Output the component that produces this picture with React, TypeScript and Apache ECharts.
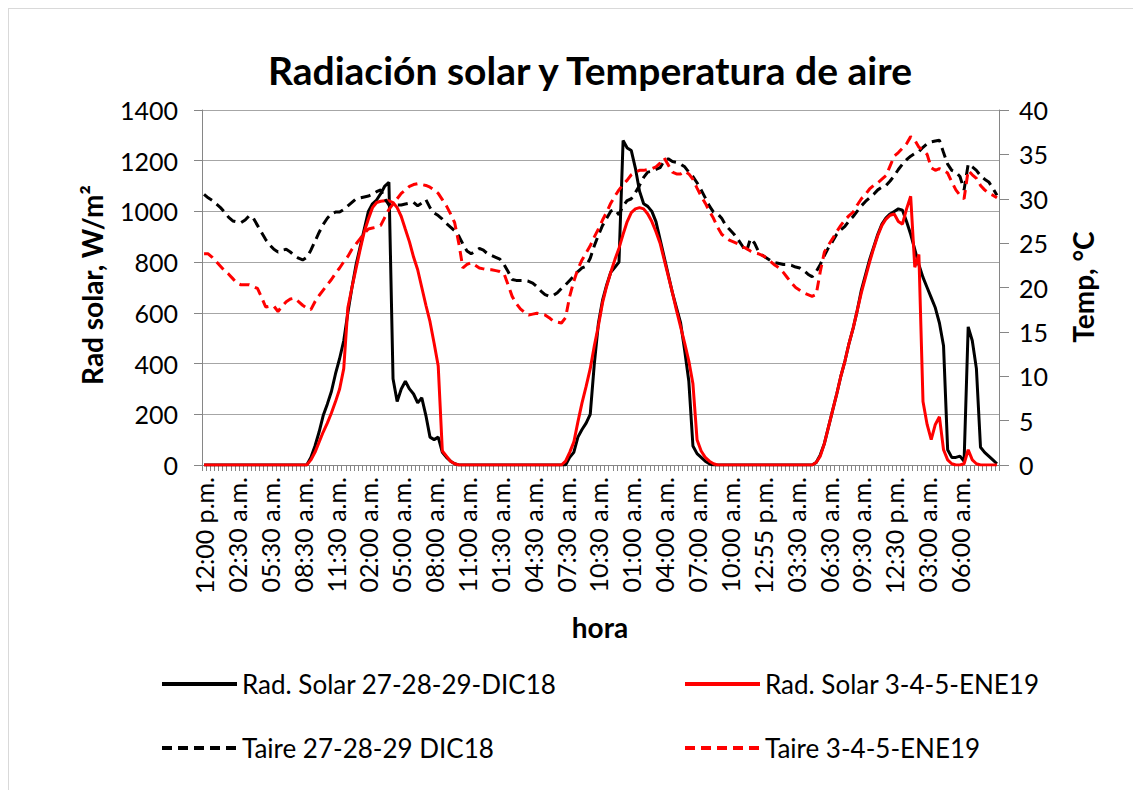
import { useEffect, useRef } from "react";
import * as echarts from "echarts";

const FONT = "Lato, 'Liberation Sans', sans-serif";

const xTickLabels = [
  "12:00 p.m.", "02:30 a.m.", "05:30 a.m.", "08:30 a.m.", "11:30 a.m.", "02:00 a.m.",
  "05:00 a.m.", "08:00 a.m.", "11:00 a.m.", "01:30 a.m.", "04:30 a.m.", "07:30 a.m.",
  "10:30 a.m.", "01:00 a.m.", "04:00 a.m.", "07:00 a.m.", "10:00 a.m.", "12:55 p.m.",
  "03:30 a.m.", "06:30 a.m.", "09:30 a.m.", "12:30 p.m.", "03:00 a.m.", "06:00 a.m.",
];
const LABEL_EVERY = 8;

const seriesNames = [
  "Rad. Solar 27-28-29-DIC18",
  "Rad. Solar 3-4-5-ENE19",
  "Taire 27-28-29 DIC18",
  "Taire 3-4-5-ENE19",
];

// Rad. Solar 27-28-29-DIC18 (W/m²)
const radDic = [
  0, 0, 0, 0, 0, 0, 0, 0, 0, 0,
  0, 0, 0, 0, 0, 0, 0, 0, 0, 0,
  0, 0, 0, 0, 0, 0, 30, 75, 130, 195,
  240, 290, 360, 420, 490, 600, 700, 790, 860, 930,
  1000, 1030, 1045, 1070, 1100, 1115, 340, 250, 300, 330,
  300, 280, 245, 265, 195, 110, 100, 110, 50, 30,
  15, 5, 0, 0, 0, 0, 0, 0, 0, 0,
  0, 0, 0, 0, 0, 0, 0, 0, 0, 0,
  0, 0, 0, 0, 0, 0, 0, 0, 0, 30,
  50, 110, 140, 165, 200, 400, 560, 650, 710, 760,
  780, 800, 1280, 1250, 1240, 1170, 1080, 1030, 1020, 1000,
  960, 890, 820, 750, 680, 620, 560, 450, 330, 75,
  45, 30, 15, 5, 0, 0, 0, 0, 0, 0,
  0, 0, 0, 0, 0, 0, 0, 0, 0, 0,
  0, 0, 0, 0, 0, 0, 0, 0, 0, 10,
  40, 85, 150, 215, 280, 350, 410, 480, 540, 610,
  690, 750, 810, 860, 910, 950, 975, 990, 1000, 1010,
  1005, 960, 910, 850, 790, 740, 700, 660, 620, 560,
  470, 60, 30, 30, 35, 15, 545, 490, 380, 70,
  50, 35, 20, 5,
];

// Rad. Solar 3-4-5-ENE19 (W/m²)
const radEne = [
  0, 0, 0, 0, 0, 0, 0, 0, 0, 0,
  0, 0, 0, 0, 0, 0, 0, 0, 0, 0,
  0, 0, 0, 0, 0, 0, 20, 50, 90, 130,
  165, 205, 250, 300, 380, 620, 700, 775, 850, 920,
  970, 1015, 1035, 1040, 1042, 1042, 1035, 1015, 980, 930,
  880, 820, 770, 700, 630, 565, 480, 390, 55, 35,
  15, 5, 0, 0, 0, 0, 0, 0, 0, 0,
  0, 0, 0, 0, 0, 0, 0, 0, 0, 0,
  0, 0, 0, 0, 0, 0, 0, 0, 15, 50,
  90, 170, 245, 310, 380, 470, 550, 640, 705, 760,
  810, 855, 910, 960, 995, 1010, 1015, 1010, 990, 960,
  920, 875, 810, 745, 680, 610, 545, 480, 410, 320,
  100, 55, 30, 15, 5, 0, 0, 0, 0, 0,
  0, 0, 0, 0, 0, 0, 0, 0, 0, 0,
  0, 0, 0, 0, 0, 0, 0, 0, 0, 10,
  35, 85, 150, 215, 280, 350, 410, 480, 540, 610,
  680, 740, 800, 855, 905, 945, 970, 985, 990, 960,
  950, 1010, 1060, 780, 830, 250, 160, 100, 160, 190,
  60, 20, 5, 0, 0, 5, 60, 20, 5, 0,
  0, 0, 0, 0,
];

// Taire 27-28-29 DIC18 (°C)
const tempDic = [
  30.5, 30.1, 29.8, 29.4, 29.0, 28.5, 27.9, 27.5, 27.4, 27.3,
  27.6, 28.1, 27.8, 27.0, 26.2, 25.4, 24.8, 24.3, 24.0, 24.2,
  24.3, 24.0, 23.6, 23.3, 23.1, 23.4, 24.2, 25.2, 26.2, 27.1,
  27.8, 28.3, 28.5, 28.5, 28.8, 29.2, 29.6, 30.0, 30.1, 30.2,
  30.3, 30.5, 30.8, 31.0, 30.0, 29.3, 29.2, 29.3, 29.3, 29.4,
  29.5, 29.6, 29.2, 29.5, 29.9, 29.0, 28.4, 28.1, 27.7, 27.2,
  26.8, 26.4, 25.8, 24.9, 24.1, 23.8, 24.1, 24.4, 24.2, 23.8,
  23.6, 23.4, 23.2, 22.6, 21.8, 20.9, 20.8, 20.8, 20.8, 20.7,
  20.5, 20.1, 19.6, 19.2, 19.0, 19.1, 19.4, 19.9, 20.3, 20.8,
  21.3, 21.8, 22.2, 22.4, 23.3, 24.7, 25.9, 27.0, 27.8, 28.6,
  28.8, 28.2, 29.2, 29.8, 30.0, 30.7, 31.5, 32.4, 33.0, 33.1,
  33.3, 33.5, 34.3, 34.5, 34.2, 34.1, 33.9, 33.6, 33.0, 32.5,
  31.8, 31.0, 30.1, 29.2, 28.5, 28.3, 27.8, 27.0, 26.5, 26.0,
  25.4, 24.7, 24.0, 25.5, 25.0, 24.0, 23.6, 23.3, 23.0, 22.8,
  22.7, 22.6, 22.6, 22.5, 22.3, 22.2, 21.9, 21.5, 21.2, 21.8,
  22.6, 23.6, 24.5, 25.2, 26.0, 26.5, 26.9, 27.5, 28.0, 28.6,
  29.2, 29.7, 30.1, 30.5, 31.0, 31.3, 31.5, 32.0, 32.6, 33.3,
  33.9, 34.4, 34.8, 35.1, 35.3, 35.8, 36.2, 36.4, 36.5, 36.6,
  35.2, 33.9, 33.2, 33.0, 32.5, 31.0, 33.9, 33.6, 33.2, 32.6,
  32.2, 31.9, 31.2, 30.4,
];

// Taire 3-4-5-ENE19 (°C)
const tempEne = [
  23.8, 23.8, 23.4, 22.9, 22.4, 21.9, 21.5, 21.0, 20.5, 20.3,
  20.3, 20.3, 20.1, 19.9, 18.9, 17.8, 17.9, 17.9, 17.3, 17.9,
  18.4, 18.7, 18.8, 18.4, 18.0, 17.7, 17.5, 18.4, 19.1, 19.7,
  20.3, 20.9, 21.6, 22.2, 22.9, 23.5, 24.3, 24.9, 25.5, 26.1,
  26.6, 26.7, 26.8, 27.0, 27.9, 28.8, 29.4, 30.0, 30.6, 31.0,
  31.4, 31.6, 31.7, 31.6, 31.5, 31.3, 31.0, 30.6, 29.9, 29.2,
  28.3, 27.3, 25.0, 22.2, 22.6, 22.8, 22.5, 22.2, 22.1, 22.0,
  22.0, 21.9, 21.8, 21.6, 20.3, 19.0, 18.2, 17.6, 17.2, 16.9,
  17.0, 17.1, 17.0, 16.9, 16.6, 16.2, 16.1, 16.0, 16.6, 19.0,
  20.7, 22.1, 23.1, 23.9, 24.7, 25.7, 26.6, 27.6, 28.5, 29.5,
  30.3, 31.0, 31.6, 32.1, 32.7, 33.0, 33.2, 33.2, 33.3, 33.4,
  33.6, 34.0, 34.6, 33.8, 33.0, 32.8, 32.8, 33.1, 32.8, 32.2,
  31.2, 30.3, 29.5, 28.6, 27.8, 26.8, 26.0, 25.6, 25.3, 25.1,
  24.9, 24.6, 24.4, 24.1, 23.9, 23.8, 23.6, 23.3, 22.9, 22.5,
  22.2, 21.7, 21.1, 20.5, 20.0, 19.7, 19.4, 19.2, 19.0, 19.2,
  21.8, 24.0, 24.8, 25.5, 26.3, 27.0, 27.6, 28.1, 28.5, 29.3,
  30.0, 30.5, 31.1, 31.5, 31.8, 32.2, 32.6, 33.7, 34.8, 35.2,
  35.7, 36.2, 37.0, 36.6, 35.8, 35.5, 35.0, 33.5, 33.2, 33.4,
  33.2, 32.9, 31.9, 31.0, 30.4, 30.0, 33.2, 32.7, 32.3, 31.5,
  31.0, 30.6, 30.4, 30.1,
];

const categories = radDic.map((_, i) => String(i));

export default function App() {
  const ref = useRef<HTMLDivElement>(null);
  useEffect(() => {
    const chart = echarts.init(ref.current as HTMLDivElement, null, { renderer: "svg" });
    const axisGray = "#868686";
    const legendText = { fontSize: 26, lineHeight: 26, fontFamily: FONT, color: "#000" };
    const legendCommon = {
      orient: "vertical",
      top: 657,
      itemWidth: 75,
      itemHeight: 26,
      itemGap: 38,
      textStyle: legendText,
      itemStyle: { opacity: 0, color: "transparent", borderWidth: 0 },
      lineStyle: { width: 4 },
    };
    const nameFont = `bold 28px ${FONT}`;
    chart.setOption({
      animation: false,
      backgroundColor: "#fff",
      textStyle: { fontFamily: FONT },
      grid: { left: 193, top: 101, width: 797, height: 355 },
      xAxis: {
        type: "category",
        data: categories,
        boundaryGap: true,
        axisLine: { lineStyle: { color: axisGray, width: 1 } },
        axisTick: { show: true, interval: 0, length: 6, lineStyle: { color: axisGray } },
        axisLabel: {
          interval: LABEL_EVERY - 1,
          rotate: 90,
          margin: 12,
          fontSize: 25,
          fontFamily: FONT,
          color: "#000",
          formatter: (_: string, idx: number) =>
            idx % LABEL_EVERY === 0 ? xTickLabels[idx / LABEL_EVERY] ?? "" : "",
        },
        splitLine: { show: false },
      },
      yAxis: [
        {
          type: "value",
          min: 0,
          max: 1400,
          interval: 200,
          axisLine: { show: true, lineStyle: { color: axisGray } },
          axisTick: { show: true, length: 8, lineStyle: { color: axisGray } },
          axisLabel: {
            fontSize: 25,
            fontFamily: FONT,
            color: "#000",
            margin: 24,
            formatter: (v: number) => String(v),
          },
          splitLine: { show: true, lineStyle: { color: "#a6a6a6", width: 1 } },
        },
        {
          type: "value",
          position: "right",
          min: 0,
          max: 40,
          interval: 5,
          axisLine: { show: true, lineStyle: { color: axisGray } },
          axisTick: { show: true, length: 10, lineStyle: { color: axisGray } },
          axisLabel: {
            fontSize: 25,
            fontFamily: FONT,
            color: "#000",
            margin: 20,
            formatter: (v: number) => String(v),
          },
          splitLine: { show: false },
        },
      ],
      legend: [
        { ...legendCommon, data: [seriesNames[0], seriesNames[2]], left: 146 },
        { ...legendCommon, data: [seriesNames[1], seriesNames[3]], left: 669 },
      ],
      graphic: [
        {
          type: "text",
          x: 581,
          y: 61,
          style: {
            text: "Radiación solar y Temperatura de aire",
            font: `bold 39px ${FONT}`,
            fill: "#000",
            textAlign: "center",
            textVerticalAlign: "middle",
          },
        },
        {
          type: "text",
          x: 83,
          y: 276,
          rotation: Math.PI / 2,
          style: {
            text: "Rad solar, W/m²",
            font: nameFont,
            fill: "#000",
            textAlign: "center",
            textVerticalAlign: "middle",
          },
        },
        {
          type: "text",
          x: 1074,
          y: 278,
          rotation: Math.PI / 2,
          style: {
            text: "Temp, °C",
            font: nameFont,
            fill: "#000",
            textAlign: "center",
            textVerticalAlign: "middle",
          },
        },
        {
          type: "text",
          x: 591,
          y: 618,
          style: {
            text: "hora",
            font: nameFont,
            fill: "#000",
            textAlign: "center",
            textVerticalAlign: "middle",
          },
        },
      ],
      series: [
        {
          name: seriesNames[0],
          type: "line",
          yAxisIndex: 0,
          data: radDic,
          symbol: "none",
          lineStyle: { color: "#000", width: 3 },
          itemStyle: { color: "#000" },
        },
        {
          name: seriesNames[1],
          type: "line",
          yAxisIndex: 0,
          data: radEne,
          symbol: "none",
          lineStyle: { color: "#ff0000", width: 3 },
          itemStyle: { color: "#ff0000" },
        },
        {
          name: seriesNames[2],
          type: "line",
          yAxisIndex: 1,
          data: tempDic,
          symbol: "none",
          lineStyle: { color: "#000", width: 3, type: [10, 6] },
          itemStyle: { color: "#000" },
        },
        {
          name: seriesNames[3],
          type: "line",
          yAxisIndex: 1,
          data: tempEne,
          symbol: "none",
          lineStyle: { color: "#ff0000", width: 3, type: [10, 6] },
          itemStyle: { color: "#ff0000" },
        },
      ],
    });
    return () => chart.dispose();
  }, []);
  return (
    <div style={{ width: 1124, height: 781, border: "1px solid #d9d9d9", background: "#fff" }}>
      <div ref={ref} style={{ width: 1124, height: 781 }} />
    </div>
  );
}
